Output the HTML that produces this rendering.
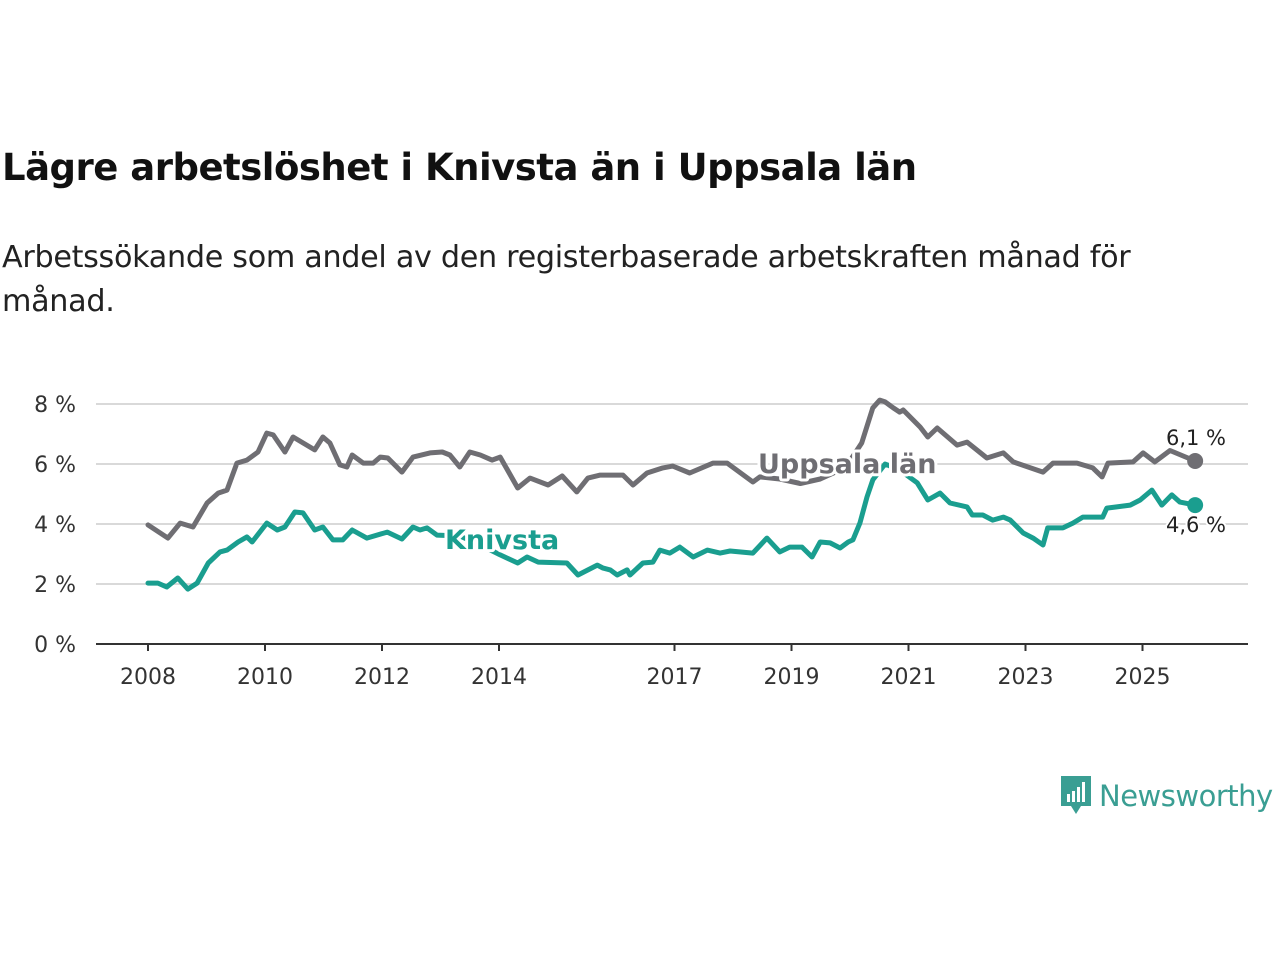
<!DOCTYPE html>
<html><head><meta charset="utf-8"><style>
body{margin:0;width:1280px;height:960px;background:#fff;font-family:"Liberation Sans","DejaVu Sans",sans-serif;overflow:hidden;position:relative}
#title{position:absolute;left:2px;top:146px;font-size:37px;font-weight:bold;color:#111;margin:0;font-family:"DejaVu Sans","Liberation Sans",sans-serif;letter-spacing:-0.5px}
#sub{position:absolute;left:2px;top:236px;font-size:30.2px;color:#222;line-height:44px;width:1185px;font-family:"DejaVu Sans","Liberation Sans",sans-serif;letter-spacing:-0.3px}
svg{position:absolute;left:0;top:0}
</style></head><body>
<h1 id="title">Lägre arbetslöshet i Knivsta än i Uppsala län</h1>
<div id="sub">Arbetssökande som andel av den registerbaserade arbetskraften månad för månad.</div>
<svg id="chart" width="1280" height="960"></svg>
<div style="position:absolute;left:1059px;top:774px;display:flex;align-items:center">
<svg width="34" height="44" style="position:static" viewBox="0 0 34 44"><path d="M2 2h30v30H22l-5 8-5-8H2z" fill="#3a9e93"/><rect x="8" y="20" width="3" height="8" fill="#fff"/><rect x="13" y="17" width="3" height="11" fill="#fff"/><rect x="18" y="13" width="3" height="15" fill="#fff"/><rect x="23" y="8" width="3" height="20" fill="#fff"/></svg>
<span style="font-size:29px;color:#3a9e93;margin-left:6px;font-family:'DejaVu Sans',sans-serif;letter-spacing:-0.5px">Newsworthy</span></div>
<script>
const yTicks=[0,2,4,6,8];
const xTicks=[2008,2010,2012,2014,2017,2019,2021,2023,2025];
const upDates=[2008.0,2008.34,2008.55,2008.77,2009.01,2009.2,2009.35,2009.52,2009.69,2009.88,2010.03,2010.14,2010.34,2010.48,2010.85,2010.99,2011.11,2011.28,2011.4,2011.49,2011.68,2011.85,2011.97,2012.1,2012.34,2012.53,2012.82,2013.03,2013.16,2013.33,2013.5,2013.68,2013.88,2014.02,2014.32,2014.53,2014.84,2015.08,2015.33,2015.52,2015.73,2016.12,2016.29,2016.53,2016.8,2016.97,2017.26,2017.66,2017.9,2018.34,2018.46,2018.8,2019.15,2019.49,2019.83,2020.03,2020.2,2020.39,2020.51,2020.6,2020.74,2020.85,2020.91,2021.2,2021.33,2021.49,2021.83,2022.0,2022.34,2022.62,2022.79,2023.3,2023.47,2023.88,2024.15,2024.31,2024.41,2024.84,2025.01,2025.21,2025.3,2025.47,2025.9];
const upVals=[3.97,3.53,4.03,3.9,4.7,5.03,5.13,6.03,6.13,6.4,7.03,6.97,6.4,6.9,6.47,6.9,6.7,5.97,5.9,6.3,6.03,6.03,6.23,6.2,5.73,6.23,6.37,6.4,6.3,5.9,6.4,6.3,6.13,6.23,5.2,5.53,5.3,5.6,5.07,5.53,5.63,5.63,5.3,5.7,5.87,5.93,5.7,6.03,6.03,5.4,5.57,5.5,5.35,5.5,5.8,6.2,6.7,7.87,8.13,8.07,7.87,7.73,7.8,7.23,6.9,7.2,6.63,6.73,6.2,6.37,6.07,5.73,6.03,6.03,5.87,5.57,6.03,6.07,6.37,6.07,6.2,6.45,6.1];
const knDates=[2008.0,2008.17,2008.32,2008.51,2008.68,2008.84,2009.03,2009.23,2009.35,2009.54,2009.69,2009.78,2010.03,2010.21,2010.34,2010.51,2010.65,2010.85,2010.99,2011.16,2011.33,2011.49,2011.74,2012.09,2012.34,2012.53,2012.65,2012.77,2012.94,2013.33,2013.68,2014.02,2014.32,2014.48,2014.67,2015.16,2015.35,2015.68,2015.78,2015.9,2016.02,2016.19,2016.24,2016.46,2016.63,2016.75,2016.92,2017.09,2017.32,2017.56,2017.78,2017.95,2018.34,2018.58,2018.8,2018.97,2019.18,2019.35,2019.49,2019.66,2019.83,2019.97,2020.05,2020.17,2020.29,2020.39,2020.6,2020.85,2021.15,2021.33,2021.54,2021.71,2022.0,2022.09,2022.27,2022.44,2022.62,2022.74,2022.96,2023.13,2023.3,2023.38,2023.64,2023.81,2023.98,2024.32,2024.39,2024.56,2024.79,2024.96,2025.16,2025.33,2025.5,2025.64,2025.9];
const knVals=[2.03,2.03,1.9,2.2,1.83,2.03,2.7,3.07,3.13,3.4,3.57,3.4,4.03,3.8,3.9,4.4,4.37,3.8,3.9,3.47,3.47,3.8,3.53,3.73,3.5,3.9,3.8,3.87,3.63,3.6,3.3,2.97,2.7,2.9,2.73,2.7,2.3,2.63,2.53,2.47,2.3,2.47,2.3,2.7,2.73,3.13,3.03,3.23,2.9,3.13,3.03,3.1,3.03,3.53,3.07,3.23,3.23,2.9,3.4,3.37,3.2,3.4,3.47,4.03,4.9,5.47,6.0,5.8,5.37,4.8,5.03,4.7,4.57,4.3,4.3,4.13,4.23,4.13,3.7,3.53,3.3,3.87,3.87,4.03,4.23,4.23,4.53,4.57,4.63,4.8,5.13,4.63,4.97,4.73,4.63];
const NS="http://www.w3.org/2000/svg";
const svg=document.getElementById('chart');
const X=t=>148+(t-2008)*58.5;
const Y=v=>644-v*30;
function mk(tag,attrs,parent){const e=document.createElementNS(NS,tag);for(const k in attrs)e.setAttribute(k,attrs[k]);(parent||svg).appendChild(e);return e;}
const font='"DejaVu Sans","Liberation Sans",sans-serif';
yTicks.forEach(v=>{
  if(v>0){const g=mk('line',{x1:96,x2:1248,y1:Y(v),y2:Y(v),stroke:'#d9d9d9','stroke-width':2});
  
  }
  const t=mk('text',{x:76,y:Y(v)+8,'text-anchor':'end','font-size':22,fill:'#333','font-family':font});
  t.textContent=v+' %';
  
  
});
const ax=mk('line',{x1:96,x2:1248,y1:644,y2:644,stroke:'#333','stroke-width':2});


xTicks.forEach(yr=>{
  mk('line',{x1:X(yr),x2:X(yr),y1:644,y2:651,stroke:'#333','stroke-width':2});
  const t=mk('text',{x:X(yr),y:684,'text-anchor':'middle','font-size':22,fill:'#333','font-family':font});
  t.textContent=yr;
  
  
});
function line(d,v,col,name){
  const p=mk('path',{d:d.map((t,i)=>(i?'L':'M')+X(t).toFixed(1)+' '+Y(v[i]).toFixed(1)).join(''),fill:'none',stroke:col,'stroke-width':5,'stroke-linejoin':'round','stroke-linecap':'round'});
  
  
  const c=mk('circle',{cx:X(d[d.length-1]),cy:Y(v[v.length-1]),r:8,fill:col});
  
  
}
line(upDates,upVals,'#6f6e73','uppsala-line');
line(knDates,knVals,'#1a9e8f','knivsta-line');
function lab(x,y,txt,col,name){
  const t=mk('text',{x:x,y:y,'font-size':27,'font-weight':'bold',fill:col,stroke:'#fff','stroke-width':6,'paint-order':'stroke','font-family':font,'stroke-linejoin':'round'});
  t.textContent=txt;
  
  
}
lab(758,473,'Uppsala län','#6f6e73','uppsala-label');
lab(445,549,'Knivsta','#1a9e8f','knivsta-label');
function val(x,y,txt,name){
  const t=mk('text',{x:x,y:y,'font-size':21,fill:'#222','text-anchor':'middle',stroke:'#fff','stroke-width':4,'paint-order':'stroke','font-family':font});
  t.textContent=txt;
  
  
}
val(1196,445,'6,1 %','uppsala-end-value');
val(1196,532,'4,6 %','knivsta-end-value');
</script>
</body></html>
